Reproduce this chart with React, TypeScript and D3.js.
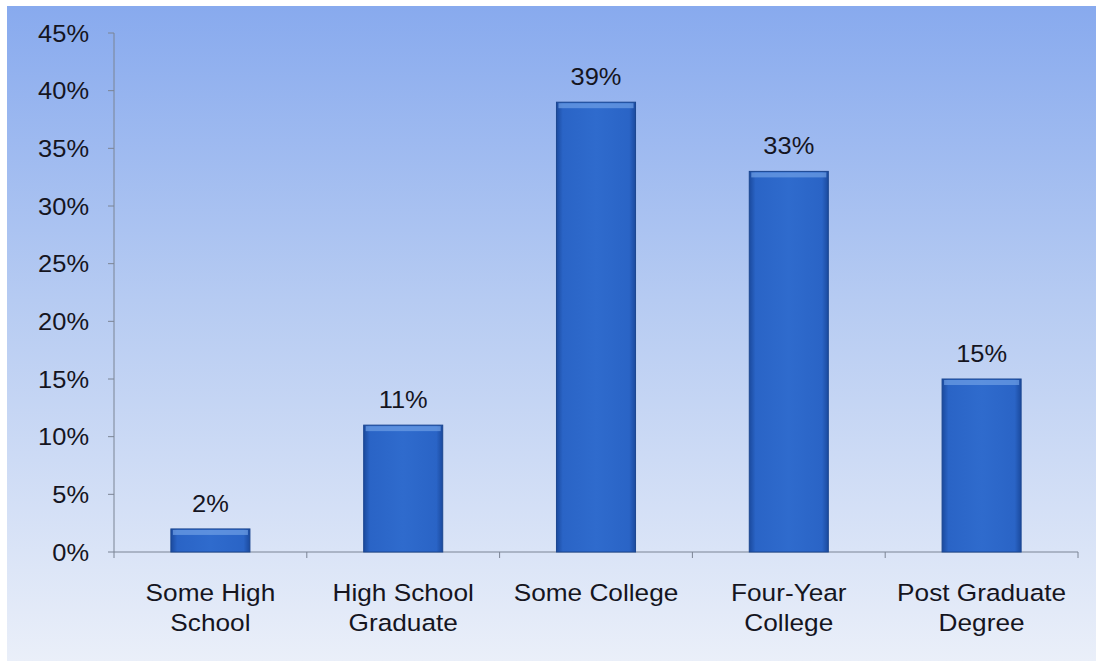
import React from "react";
import * as d3 from "d3";

const categories = [["Some High", "School"], ["High School", "Graduate"], ["Some College"], ["Four-Year", "College"], ["Post Graduate", "Degree"]];
const values = [2, 11, 39, 33, 15];
const yTicks = [0, 5, 10, 15, 20, 25, 30, 35, 40, 45];

const W = 1096, H = 661;
const left = 114, right = 1078, top = 33, bottom = 552;

export default function App() {
  const x = d3.scaleBand<number>().domain(d3.range(values.length)).range([left, right]).paddingInner(0.59).paddingOuter(0.295);
  const y = d3.scaleLinear().domain([0, 45]).range([bottom, top]);
  const band = (right - left) / values.length;
  const font = "'Liberation Sans', Arial, sans-serif";
  const textColor = "#15151f";
  return (
    <svg width={W} height={H} style={{ position: "absolute", left: 0, top: 0 }}>
      <defs>
        <linearGradient id="bg" x1="0" y1="0" x2="0" y2="1">
          <stop offset="0" stopColor="#88aaee" />
          <stop offset="0.45" stopColor="#b6cbf2" />
          <stop offset="1" stopColor="#eaeff9" />
        </linearGradient>
        <linearGradient id="barH" x1="0" y1="0" x2="1" y2="0">
          <stop offset="0" stopColor="#1b4a9e" />
          <stop offset="0.08" stopColor="#2a64c6" />
          <stop offset="0.5" stopColor="#2f6bcd" />
          <stop offset="0.92" stopColor="#2a64c6" />
          <stop offset="1" stopColor="#1b4a9e" />
        </linearGradient>
      </defs>
      <rect x={0} y={0} width={W} height={H} fill="#ffffff" />
      <rect x={7} y={6} width={W - 7} height={H - 6} fill="url(#bg)" />
      <line x1={left} x2={left} y1={top} y2={bottom} stroke="#7b8494" strokeWidth={1} />
      <line x1={left} x2={right} y1={bottom} y2={bottom} stroke="#7b8494" strokeWidth={1} />
      {yTicks.map((t) => (
        <g key={t}>
          <line x1={left - 6} x2={left} y1={y(t)} y2={y(t)} stroke="#7b8494" />
          <g transform={`translate(89,${y(t) + 8.5}) scale(1.06,1)`}>
            <text x={0} y={0} textAnchor="end" fontFamily={font} fontSize={24} fill={textColor}>{t}%</text>
          </g>
        </g>
      ))}
      {d3.range(values.length + 1).map((i) => (
        <line key={i} x1={left + i * band} x2={left + i * band} y1={bottom} y2={bottom + 6} stroke="#7b8494" />
      ))}
      {values.map((v, i) => {
        const bx = x(i)!;
        const bw = x.bandwidth();
        const by = y(v);
        const bh = bottom - by;
        return (
          <g key={i}>
            <rect x={bx} y={by} width={bw} height={bh} fill="url(#barH)" stroke="#1b4690" strokeWidth={1} />
            <rect x={bx + 2} y={by + 1} width={bw - 4} height={Math.min(5, bh - 2)} fill="#6f9fe6" opacity={0.7} />
            <g transform={`translate(${bx + bw / 2},${by - 17}) scale(1.06,1)`}>
              <text x={0} y={0} textAnchor="middle" fontFamily={font} fontSize={24} fill={textColor}>{v}%</text>
            </g>
          </g>
        );
      })}
      {categories.map((lines, i) => (
        <g key={i} transform={`translate(${x(i)! + x.bandwidth() / 2},601) scale(1.07,1)`}>
          <text x={0} y={0} textAnchor="middle" fontFamily={font} fontSize={24.5} fill={textColor}>
            {lines.map((l, j) => (
              <tspan key={j} x={0} dy={j === 0 ? 0 : 30}>{l}</tspan>
            ))}
          </text>
        </g>
      ))}
    </svg>
  );
}
